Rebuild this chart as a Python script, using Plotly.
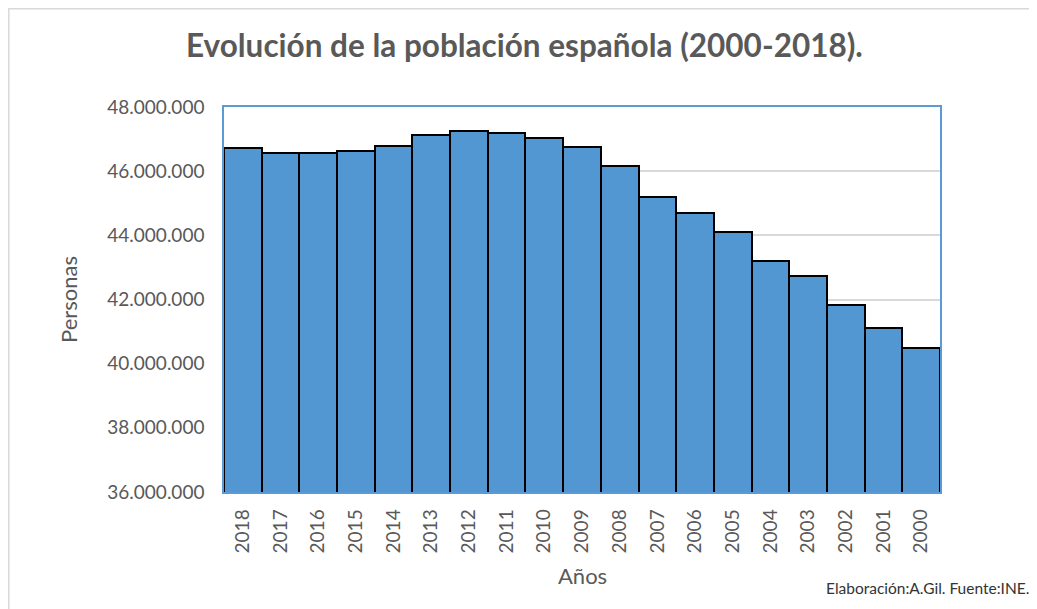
import plotly.graph_objects as go

years = ["2018", "2017", "2016", "2015", "2014", "2013", "2012", "2011", "2010", "2009",
         "2008", "2007", "2006", "2005", "2004", "2003", "2002", "2001", "2000"]
population = [46722980, 46572132, 46557008, 46624382, 46771341, 47129783, 47265321,
              47190493, 47021031, 46745807, 46157822, 45200737, 44708964, 44108530,
              43197684, 42717064, 41837894, 41116842, 40499791]
y_ticks = [36000000, 38000000, 40000000, 42000000, 44000000, 46000000, 48000000]

title_text = "Evolución de la población española (2000-2018)."
x_title = "Años"
y_title = "Personas"
footer = "Elaboración:A.Gil. Fuente:INE."

OFF = 8  # page body margin
W, H = 1037 - OFF, 609 - OFF
# plot area in screen pixels: x 224..940, y 107..492
L, T = 224 - OFF, 107 - OFF
R, B = W - (940 - OFF), H - (492 - OFF)
pw, ph = W - L - R, H - T - B

def px_x(p):
    return (p - OFF - L) / pw

def px_y(p):
    return (H - B - (p - OFF)) / ph

grey = "#595959"
font = "Lato"

fig = go.Figure(go.Bar(
    x=years, y=population,
    marker=dict(color="#5296D2", line=dict(color="black", width=2)),
))

fig.update_layout(
    width=W, height=H,
    margin=dict(l=L, r=R, t=T, b=B),
    paper_bgcolor="white", plot_bgcolor="white",
    bargap=0, showlegend=False,
    separators=",.",
    font=dict(family=font, color=grey, size=19),
    xaxis=dict(type="category", categoryarray=years, tickangle=-90,
               tickfont=dict(size=19, color=grey, family=font),
               showline=True, linecolor="#5B9BD5", linewidth=1.5, mirror=True,
               ticks="", showgrid=False, ticklabelstandoff=8),
    yaxis=dict(range=[36000000, 48000000], tickvals=y_ticks, tickformat=",d",
               tickfont=dict(size=19, color=grey, family=font),
               showline=True, linecolor="#5B9BD5", linewidth=1.5, mirror=True,
               gridcolor="#D9D9D9", gridwidth=1.5, ticks="", zeroline=False,
               ticklabelstandoff=14),
    annotations=[
        dict(text="<b>" + title_text + "</b>", xref="paper", yref="paper",
             x=px_x(524), y=px_y(45), showarrow=False, xanchor="center", yanchor="middle",
             font=dict(size=31.5, color=grey, family=font)),
        dict(text=x_title, xref="paper", yref="paper", x=px_x(582), y=px_y(575),
             showarrow=False, xanchor="center", yanchor="middle",
             font=dict(size=22, color=grey, family=font)),
        dict(text=y_title, xref="paper", yref="paper", x=px_x(68), y=px_y(300),
             showarrow=False, xanchor="center", yanchor="middle", textangle=-90,
             font=dict(size=22, color=grey, family=font)),
        dict(text=footer, xref="paper", yref="paper", x=px_x(1031), y=px_y(588),
             showarrow=False, xanchor="right", yanchor="middle",
             font=dict(size=15.5, color="#333333", family=font)),
    ],
    shapes=[dict(type="rect", xref="paper", yref="paper",
                 x0=px_x(8.8), y0=px_y(640), x1=px_x(1080), y1=px_y(8.8),
                 line=dict(color="#D9D9D9", width=1.5), layer="below")],
)

fig.write_html("out.html")
